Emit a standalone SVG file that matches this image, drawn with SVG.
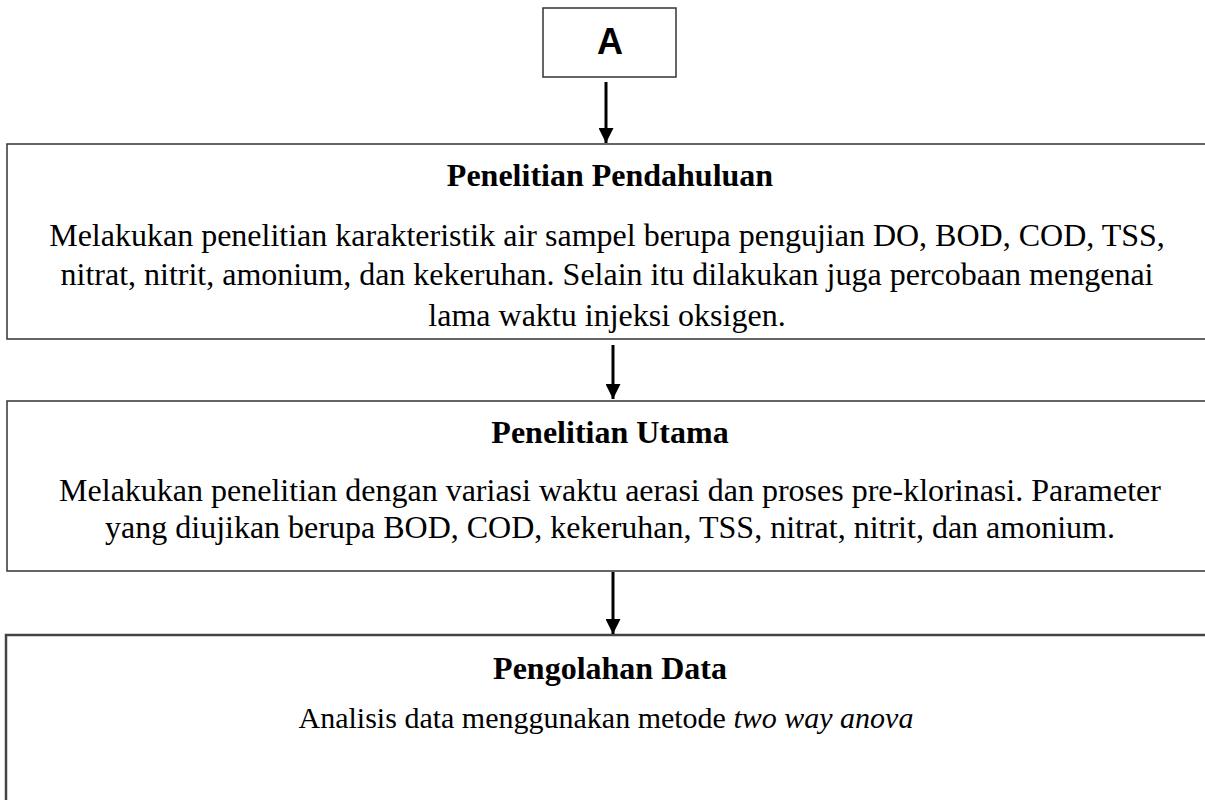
<svg xmlns="http://www.w3.org/2000/svg" width="1205" height="800" viewBox="0 0 1205 800">
<style>
.box{fill:#fff;stroke:#333;stroke-width:1.5}
.title{font-family:"Liberation Serif","Times New Roman",serif;font-weight:bold;font-size:32px;text-anchor:middle;fill:#000}
.body{font-family:"Liberation Serif","Times New Roman",serif;font-size:32px;text-anchor:middle;fill:#000}
.conn{stroke:#000;stroke-width:3;fill:none}
</style>
<defs>
<marker id="ah" markerWidth="5" markerHeight="5" refX="5" refY="2.5" orient="auto" markerUnits="strokeWidth">
<path d="M0,0 L5,2.5 L0,5 Z" fill="#000"/>
</marker>
</defs>
<rect width="1205" height="800" fill="#fff"/>
<g id="nodeA">
<rect class="box" x="543" y="8" width="133" height="69"/>
<text x="610" y="54" font-family="Liberation Sans, Arial, sans-serif" font-weight="bold" font-size="36" text-anchor="middle">A</text>
</g>
<g id="node1">
<rect class="box" x="7" y="144" width="1210" height="195"/>
<text class="title" x="610" y="186">Penelitian Pendahuluan</text>
<text class="body" x="607" y="246">Melakukan penelitian karakteristik air sampel berupa pengujian DO, BOD, COD, TSS,</text>
<text class="body" x="607" y="285">nitrat, nitrit, amonium, dan kekeruhan. Selain itu dilakukan juga percobaan mengenai</text>
<text class="body" x="607" y="326">lama waktu injeksi oksigen.</text>
</g>
<g id="node2">
<rect class="box" x="7" y="401" width="1210" height="170"/>
<text class="title" x="610" y="443">Penelitian Utama</text>
<text class="body" x="610" y="501">Melakukan penelitian dengan variasi waktu aerasi dan proses pre-klorinasi. Parameter</text>
<text class="body" x="610" y="538">yang diujikan berupa BOD, COD, kekeruhan, TSS, nitrat, nitrit, dan amonium.</text>
</g>
<g id="node3">
<rect class="box" x="6" y="635" width="1210" height="180" style="stroke:#444;stroke-width:2.5"/>
<text class="title" x="610" y="679">Pengolahan Data</text>
<text class="body" x="606" y="728" style="font-size:30px">Analisis data menggunakan metode <tspan font-style="italic">two way anova</tspan></text>
</g>
<g id="connectors">
<line class="conn" x1="606" y1="82" x2="606" y2="143" marker-end="url(#ah)"/>
<line class="conn" x1="613" y1="345" x2="613" y2="399" marker-end="url(#ah)"/>
<line class="conn" x1="613" y1="572" x2="613" y2="634" marker-end="url(#ah)"/>
</g>
</svg>
